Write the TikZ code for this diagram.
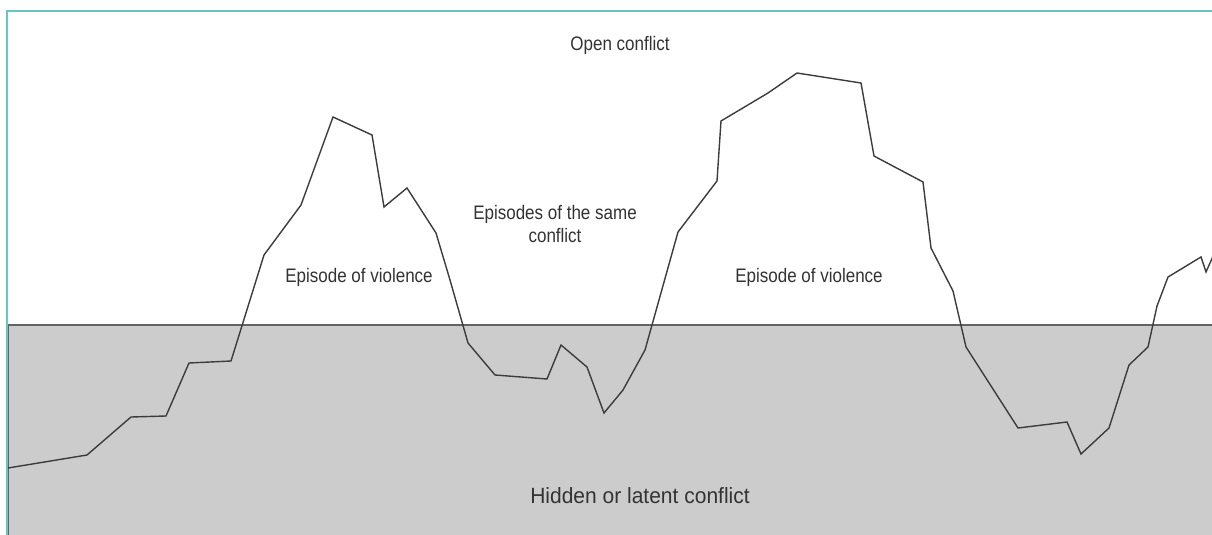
\documentclass[tikz,border=0pt]{standalone}
\usepackage{fontspec}
\setmainfont{Liberation Sans}
\definecolor{teal1}{RGB}{102,197,197}
\definecolor{seagray}{RGB}{204,204,204}
\definecolor{linegray}{RGB}{60,60,60}
\begin{document}
\begin{tikzpicture}[x=1pt,y=-1pt,
  lbl/.style={text=black!80, inner sep=0pt, font=\fontsize{17}{20}\selectfont, yscale=1.15},
  bigl/.style={text=black!80, inner sep=0pt, font=\fontsize{21}{24}\selectfont, yscale=1.05},
  curve/.style={draw=linegray, line width=1.4pt, line join=miter}]
\useasboundingbox (0,0) rectangle (1212,535);
\fill[white] (0,0) rectangle (1212,535);
% latent zone
\filldraw[fill=seagray, draw=linegray!80, line width=1.3pt] (8.5,325) -- (1215,325) -- (1215,540) -- (8.5,540) -- cycle;
% frame
\draw[teal1, line width=2.2pt] (7,540) -- (7,11) -- (1215,11);
% conflict curve
\draw[curve] (8,468) -- (87,455) -- (131,417) -- (166,416) -- (189,363) -- (231,361)
  -- (264,255) -- (301,205) -- (333,117) -- (372,135) -- (384,207) -- (407,188)
  -- (436,233) -- (450,280) -- (468,343) -- (495,375) -- (547,379) -- (561,345)
  -- (587,367) -- (604,413) -- (623,390) -- (645,350) -- (678,232) -- (717,181)
  -- (721,121) -- (768,93) -- (797,73) -- (861,83) -- (874,156) -- (923,182)
  -- (931,248) -- (953,291) -- (966,347) -- (1018,428) -- (1067,422) -- (1081,454)
  -- (1109,428) -- (1129,365) -- (1148,347) -- (1157,306) -- (1168,277) -- (1201,257)
  -- (1206,272) -- (1214,254);
% labels
\node[lbl] (open) at (620,45) {Open conflict};
\node[lbl] (ep1) at (359,277) {Episode of violence};
\node[lbl, align=center] (same) at (555,224) {Episodes of the same\\conflict};
\node[lbl] (ep2) at (809,277) {Episode of violence};
\node[bigl] (hidden) at (640,496) {Hidden or latent conflict};
\end{tikzpicture}
\end{document}
